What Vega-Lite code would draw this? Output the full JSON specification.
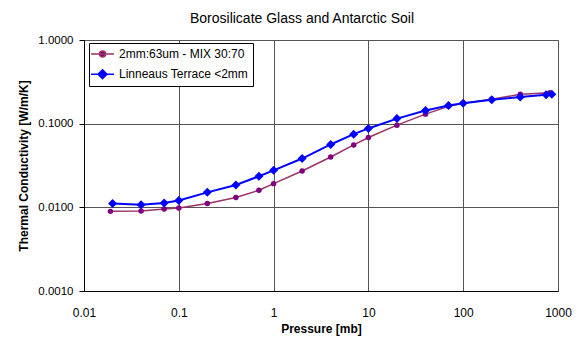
{
 "$schema": "https://vega.github.io/schema/vega-lite/v6.json",
 "width": 474,
 "height": 251,
 "autosize": {"type": "none"},
 "padding": {"left": 84, "top": 40, "right": 21, "bottom": 46},
 "title": {"text": "Borosilicate Glass and Antarctic Soil", "font": "Liberation Sans", "fontSize": 14, "fontWeight": "normal", "offset": 8, "anchor": "middle", "dx": -19, "color": "#000"},
 "data": {"values": [
  {"series": "2mm:63um - MIX 30:70", "p": 0.019, "k": 0.00895},
  {"series": "2mm:63um - MIX 30:70", "p": 0.04, "k": 0.00903},
  {"series": "2mm:63um - MIX 30:70", "p": 0.07, "k": 0.00955},
  {"series": "2mm:63um - MIX 30:70", "p": 0.1, "k": 0.0098},
  {"series": "2mm:63um - MIX 30:70", "p": 0.2, "k": 0.0111},
  {"series": "2mm:63um - MIX 30:70", "p": 0.4, "k": 0.0131},
  {"series": "2mm:63um - MIX 30:70", "p": 0.7, "k": 0.016},
  {"series": "2mm:63um - MIX 30:70", "p": 1, "k": 0.0192},
  {"series": "2mm:63um - MIX 30:70", "p": 2, "k": 0.0272},
  {"series": "2mm:63um - MIX 30:70", "p": 4, "k": 0.040},
  {"series": "2mm:63um - MIX 30:70", "p": 7, "k": 0.0557},
  {"series": "2mm:63um - MIX 30:70", "p": 10, "k": 0.0684},
  {"series": "2mm:63um - MIX 30:70", "p": 20, "k": 0.096},
  {"series": "2mm:63um - MIX 30:70", "p": 40, "k": 0.130},
  {"series": "2mm:63um - MIX 30:70", "p": 70, "k": 0.161},
  {"series": "2mm:63um - MIX 30:70", "p": 100, "k": 0.175},
  {"series": "2mm:63um - MIX 30:70", "p": 200, "k": 0.196},
  {"series": "2mm:63um - MIX 30:70", "p": 400, "k": 0.224},
  {"series": "2mm:63um - MIX 30:70", "p": 820, "k": 0.234},
  {"series": "Linneaus Terrace <2mm", "p": 0.02, "k": 0.0111},
  {"series": "Linneaus Terrace <2mm", "p": 0.04, "k": 0.01077},
  {"series": "Linneaus Terrace <2mm", "p": 0.07, "k": 0.01125},
  {"series": "Linneaus Terrace <2mm", "p": 0.1, "k": 0.0121},
  {"series": "Linneaus Terrace <2mm", "p": 0.2, "k": 0.0151},
  {"series": "Linneaus Terrace <2mm", "p": 0.4, "k": 0.0185},
  {"series": "Linneaus Terrace <2mm", "p": 0.7, "k": 0.0235},
  {"series": "Linneaus Terrace <2mm", "p": 1, "k": 0.0277},
  {"series": "Linneaus Terrace <2mm", "p": 2, "k": 0.0383},
  {"series": "Linneaus Terrace <2mm", "p": 4, "k": 0.0564},
  {"series": "Linneaus Terrace <2mm", "p": 7, "k": 0.0749},
  {"series": "Linneaus Terrace <2mm", "p": 10, "k": 0.0877},
  {"series": "Linneaus Terrace <2mm", "p": 20, "k": 0.115},
  {"series": "Linneaus Terrace <2mm", "p": 40, "k": 0.144},
  {"series": "Linneaus Terrace <2mm", "p": 70, "k": 0.165},
  {"series": "Linneaus Terrace <2mm", "p": 100, "k": 0.175},
  {"series": "Linneaus Terrace <2mm", "p": 200, "k": 0.193},
  {"series": "Linneaus Terrace <2mm", "p": 400, "k": 0.208},
  {"series": "Linneaus Terrace <2mm", "p": 750, "k": 0.221},
  {"series": "Linneaus Terrace <2mm", "p": 860, "k": 0.224}
 ]},
 "encoding": {
  "x": {"field": "p", "type": "quantitative",
   "scale": {"type": "log", "domain": [0.01, 1000], "nice": false},
   "axis": {"title": "Pressure [mb]", "values": [0.01, 0.1, 1, 10, 100, 1000], "format": "~g", "ticks": false, "labelFontSize": 12, "labelPadding": 16, "titlePadding": 5, "labelFlush": false}},
  "y": {"field": "k", "type": "quantitative",
   "scale": {"type": "log", "domain": [0.001, 1], "nice": false},
   "axis": {"title": "Thermal Conductivity [W/m/K]", "values": [0.001, 0.01, 0.1, 1], "format": ".4f", "tickSize": 5, "labelFontSize": 11.5, "labelPadding": 6, "titlePadding": 7}}
 },
 "layer": [
  {"transform": [{"filter": "datum.series === '2mm:63um - MIX 30:70'"}],
   "mark": {"type": "line", "color": "#993366", "strokeWidth": 1.5}},
  {"transform": [{"filter": "datum.series === '2mm:63um - MIX 30:70'"}],
   "mark": {"type": "point", "shape": "circle", "filled": true, "color": "#800080", "size": 30, "opacity": 1}},
  {"transform": [{"filter": "datum.series === 'Linneaus Terrace <2mm'"}],
   "mark": {"type": "line", "color": "#0000ff", "strokeWidth": 2}},
  {"transform": [{"filter": "datum.series === 'Linneaus Terrace <2mm'"}],
   "mark": {"type": "point", "shape": "diamond", "filled": true, "color": "#0000ff", "size": 81, "opacity": 1}},
  {"mark": {"type": "point", "filled": true, "opacity": 0},
   "encoding": {
    "fill": {"field": "series", "type": "nominal", "scale": {"domain": ["2mm:63um - MIX 30:70", "Linneaus Terrace <2mm"], "range": ["#800080", "#0000ff"]}, "legend": {"title": null}},
    "stroke": {"field": "series", "type": "nominal", "scale": {"domain": ["2mm:63um - MIX 30:70", "Linneaus Terrace <2mm"], "range": ["#993366", "#0000ff"]}, "legend": {"title": null}},
    "shape": {"field": "series", "type": "nominal", "scale": {"domain": ["2mm:63um - MIX 30:70", "Linneaus Terrace <2mm"], "range": ["M-1.5,0H2.33M0.92,0A0.5,0.5,0,1,1,-0.08,0A0.5,0.5,0,1,1,0.92,0Z", "M-1.5,0H2.33M0.42,-0.75L1.17,0L0.42,0.75L-0.33,0Z"]}, "legend": {"title": null}}
   }}
 ],
 "config": {
  "font": "Liberation Sans",
  "view": {"stroke": "#808080", "strokeWidth": 1},
  "axis": {"labelFont": "Liberation Sans", "labelFontSize": 11.5, "labelColor": "#000", "titleFont": "Liberation Sans", "titleFontSize": 12, "titleFontWeight": "bold", "titleColor": "#000", "domainColor": "#000", "tickColor": "#000", "gridColor": "#555555", "gridOpacity": 1, "grid": true},
  "legend": {"orient": "none", "legendX": 5, "legendY": 3, "padding": 4, "rowPadding": 6.3, "symbolSize": 144, "symbolStrokeWidth": 1.5, "symbolOpacity": 1, "labelOffset": 12, "labelFont": "Liberation Sans", "labelFontSize": 12, "labelColor": "#000", "strokeColor": "#000", "fillColor": "#fff", "labelLimit": 300}
 }
}
